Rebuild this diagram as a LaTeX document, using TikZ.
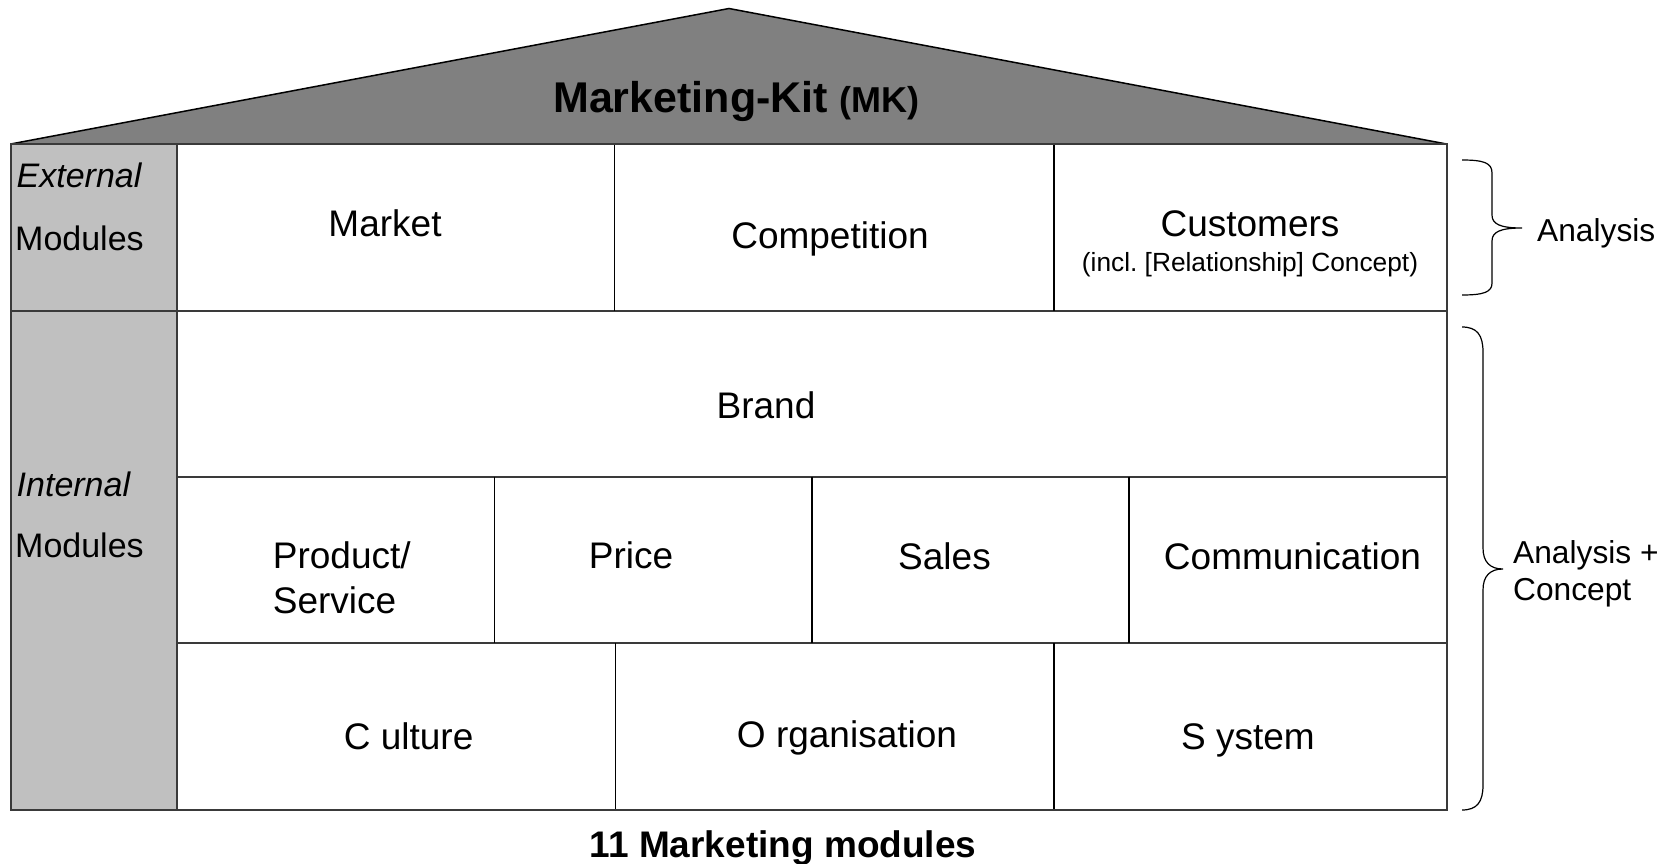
\documentclass[tikz,border=0pt]{standalone}
\usepackage{fontspec}
\setmainfont{Liberation Sans}
\definecolor{roofgray}{HTML}{808080}
\definecolor{wallgray}{HTML}{C0C0C0}
\definecolor{framegray}{HTML}{3A3A3A}
\frenchspacing
\begin{document}
\begin{tikzpicture}[x=1pt,y=-1pt,
  frame/.style={draw=framegray,line width=2pt},
  divider/.style={draw=black,line width=1.4pt},
  lbl/.style={inner sep=0pt,anchor=base,font=\fontsize{37}{44}\selectfont},
  lblw/.style={inner sep=0pt,anchor=base west,font=\fontsize{37}{44}\selectfont},
  side/.style={inner sep=0pt,anchor=base west,font=\fontsize{34}{40}\selectfont},
  note/.style={inner sep=0pt,anchor=base west,font=\fontsize{31.7}{38}\selectfont},
  bracepath/.style={draw=black,line width=1.2pt},
]
\useasboundingbox (0,0) rectangle (1664,864);

% roof
\coordinate (eaveL) at (10.7,144);
\coordinate (eaveR) at (1446.5,144);
\coordinate (ridge) at (729,8.5);
\filldraw[fill=roofgray,draw=black,line width=1.5pt,line join=miter]
  (eaveL) -- (ridge) -- (eaveR) -- cycle;

% left column
\coordinate (wallBL) at (10.7,810);
\coordinate (colT) at (176.5,144);
\coordinate (colB) at (176.5,810);
\fill[wallgray] (eaveL) rectangle (colB);

% horizontal rows
\draw[frame] (10.7,311) -- (1446.5,311);
\draw[frame] (176.5,476.5) -- (1446.5,476.5);
\draw[frame] (176.5,643) -- (1446.5,643);

% vertical dividers
\draw[divider] (614.5,144) -- (614.5,311);
\draw[divider] (1054,144) -- (1054,311);
\draw[divider] (494.5,476.5) -- (494.5,643);
\draw[divider] (812,476.5) -- (812,643);
\draw[divider] (1129,476.5) -- (1129,643);
\draw[divider] (615.5,643) -- (615.5,810);
\draw[divider] (1054,643) -- (1054,810);

% outer frame
\draw[frame] (colT) -- (colB);
\draw[frame] (eaveL) rectangle (1446.5,810);

% title
\node[inner sep=0pt,anchor=base west,font=\fontsize{43}{50}\selectfont\bfseries]
  (title) at (553,113) {Marketing-Kit {\fontsize{36}{42}\selectfont(MK)}};

% left column labels
\node[side,font=\fontsize{34}{40}\selectfont\itshape] (ext) at (16.5,187.5) {External};
\node[side] (extmod) at (15,250) {Modules};
\node[side,font=\fontsize{34}{40}\selectfont\itshape] (int) at (16.5,496) {Internal};
\node[side] (intmod) at (15,557.5) {Modules};

% external modules
\node[lbl] (market) at (385,236) {Market};
\node[lbl] (competition) at (830,248) {Competition};
\node[lbl] (customers) at (1250,236) {Customers};
\node[inner sep=0pt,anchor=base,font=\fontsize{26.3}{31}\selectfont]
  (custnote) at (1250,271.5) {(incl. [Relationship] Concept)};

% internal modules
\node[lbl] (brand) at (766,418.5) {Brand};
\node[lblw] (product) at (272.7,568) {Product/};
\node[lblw] (service) at (272.7,613.8) {Service};
\node[lbl] (price) at (631,568) {Price};
\node[lbl] (sales) at (944.5,569) {Sales};
\node[lbl] (communication) at (1292.5,569) {Communication};
\node[lbl] (culture) at (408.6,749.7) {C ulture};
\node[lbl] (organisation) at (847,747) {O rganisation};
\node[lbl] (system) at (1248,749.7) {S ystem};

% caption
\node[inner sep=0pt,anchor=base,font=\fontsize{37}{44}\selectfont\bfseries]
  (caption) at (783,857) {11 Marketing modules};

% braces
\coordinate (b1top) at (1462,160);
\coordinate (b1tip) at (1522,228);
\coordinate (b1bot) at (1462,295);
\draw[bracepath] (b1top) .. controls (1484,160) and (1492,163) .. (1492,173)
  -- (1492,215) .. controls (1492,224) and (1500,228) .. (b1tip)
  .. controls (1500,228) and (1492,232) .. (1492,241)
  -- (1492,283) .. controls (1492,292) and (1484,295) .. (b1bot);
\node[note] (analysis) at (1537,241.7) {Analysis};

\coordinate (b2top) at (1462,327);
\coordinate (b2tip) at (1503,569);
\coordinate (b2bot) at (1462,810);
\draw[bracepath] (b2top) .. controls (1477,327) and (1483,335) .. (1483,352)
  -- (1483,548) .. controls (1483,562) and (1490,569) .. (b2tip)
  .. controls (1490,569) and (1483,576) .. (1483,590)
  -- (1483,785) .. controls (1483,802) and (1477,810) .. (b2bot);
\node[note] (analysis2) at (1513,563) {Analysis +};
\node[note] (concept) at (1513,600) {Concept};
\end{tikzpicture}
\end{document}
